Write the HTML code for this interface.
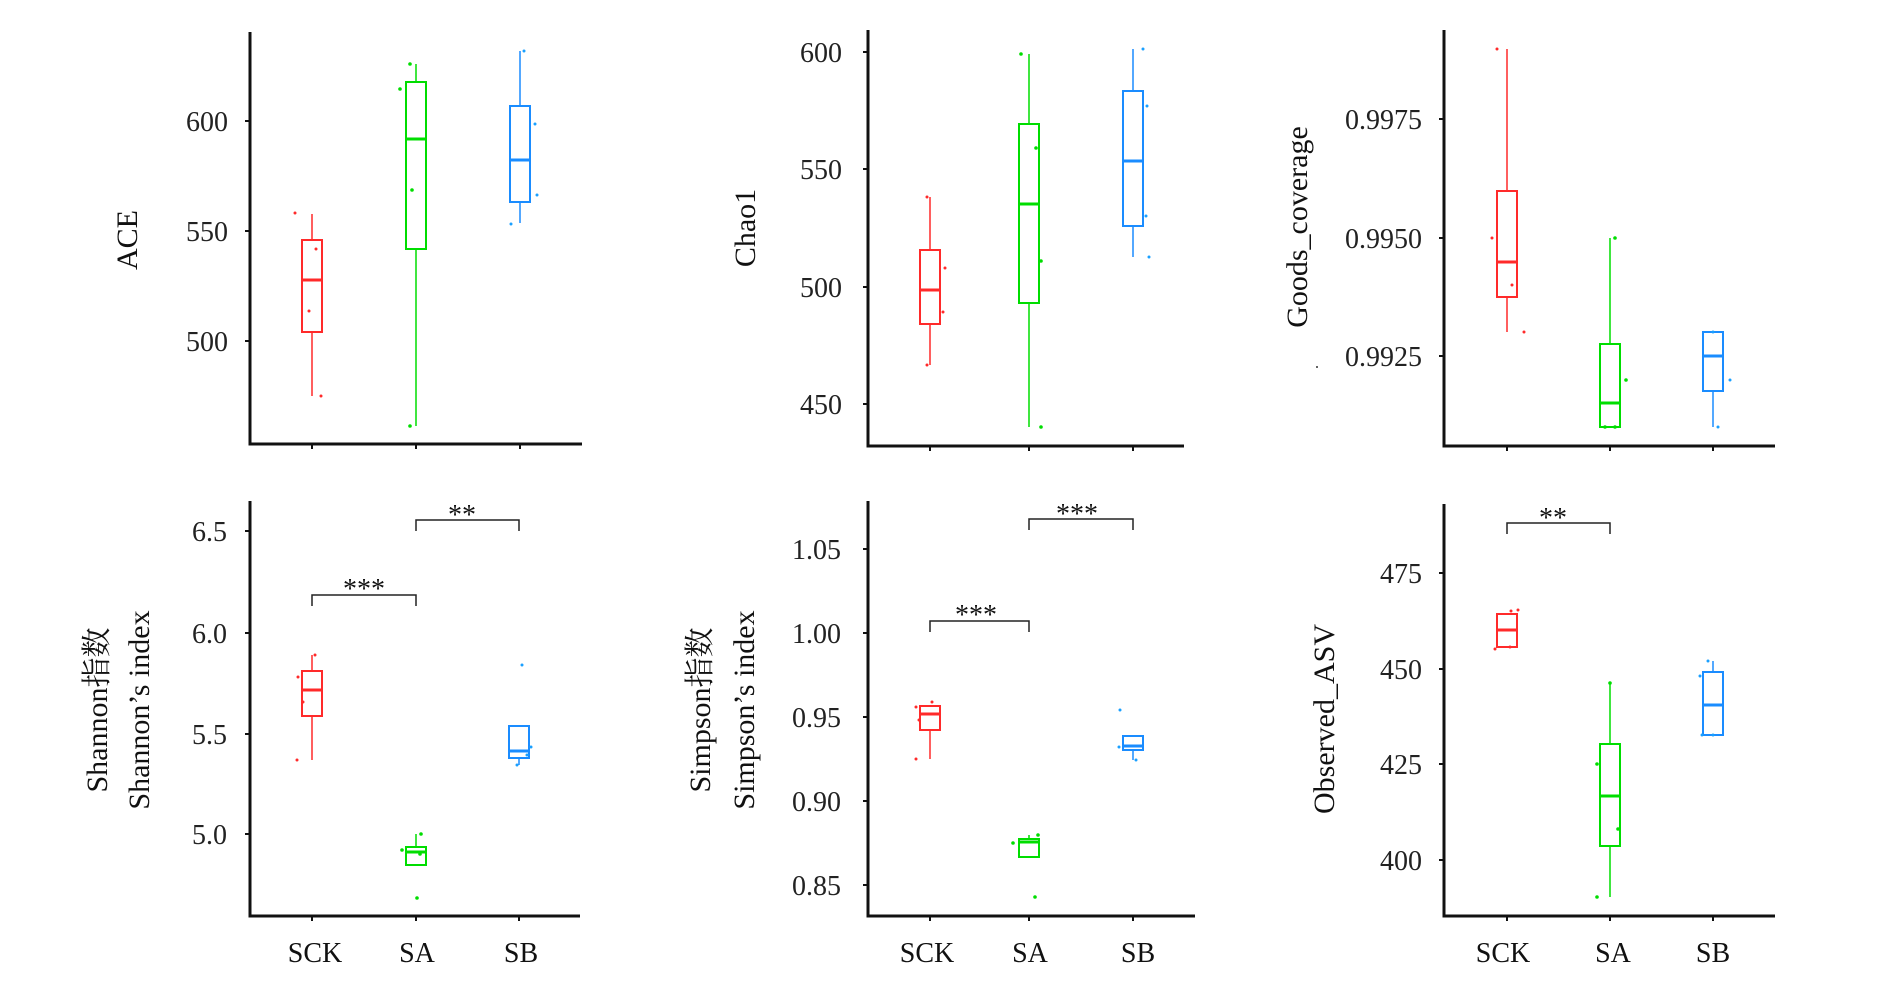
<!DOCTYPE html>
<html><head><meta charset="utf-8"><style>
html,body{margin:0;padding:0;background:#fff;}
svg{display:block;}
text{font-family:"Liberation Serif","Noto Serif CJK SC","Noto Sans CJK SC",serif;fill:#222;}
.tk{font-size:28px;text-anchor:end;}
.xl{font-size:28px;text-anchor:middle;fill:#111;}
.at{font-size:30px;text-anchor:middle;fill:#111;}
.st{font-size:28px;text-anchor:middle;fill:#111;}
.ax{stroke:#111;stroke-width:3;fill:none;}
.tm{stroke:#111;stroke-width:2;}
.r{stroke:#ff2a2a;fill:none;}
.g{stroke:#00dd00;fill:none;}
.b{stroke:#1a8cff;fill:none;}
.br{stroke:#222;stroke-width:1.5;fill:none;}
</style></head><body>
<svg width="1890" height="997" viewBox="0 0 1890 997" xmlns="http://www.w3.org/2000/svg">

<!-- ===== ACE ===== -->
<path class="ax" d="M250,32 V444 H582"/>
<path class="tm" d="M245,121H250 M245,231H250 M245,341H250 M312,444v5 M416,444v5 M520,444v5"/>
<text class="tk" x="228" y="131">600</text>
<text class="tk" x="228" y="241">550</text>
<text class="tk" x="228" y="351">500</text>
<text class="at" transform="translate(137,240) rotate(-90)">ACE</text>
<g class="r"><path stroke-width="1.5" d="M312,214V240 M312,332V396"/><rect x="302" y="240" width="20" height="92" stroke-width="2"/><path stroke-width="3" d="M302,280H322"/></g>
<g class="g"><path stroke-width="1.5" d="M416,64V82 M416,249V426"/><rect x="406" y="82" width="20" height="167" stroke-width="2"/><path stroke-width="3" d="M406,139H426"/></g>
<g class="b"><path stroke-width="1.5" d="M520,51V106 M520,202V223"/><rect x="510" y="106" width="20" height="96" stroke-width="2"/><path stroke-width="3" d="M510,160H530"/></g>
<g fill="#ff2a2a"><circle cx="295" cy="213" r="1.5"/><circle cx="316" cy="249" r="1.5"/><circle cx="309" cy="311" r="1.5"/><circle cx="321" cy="396" r="1.5"/></g>
<g fill="#00dd00"><circle cx="410" cy="64" r="1.8"/><circle cx="400" cy="89" r="1.8"/><circle cx="412" cy="190" r="1.8"/><circle cx="410" cy="426" r="1.8"/></g>
<g fill="#1aa0ff"><circle cx="524" cy="51" r="1.5"/><circle cx="535" cy="124" r="1.5"/><circle cx="537" cy="195" r="1.5"/><circle cx="511" cy="224" r="1.5"/></g>

<!-- ===== Chao1 ===== -->
<path class="ax" d="M868,30 V446 H1184"/>
<path class="tm" d="M863,52H868 M863,169H868 M863,287H868 M863,404H868 M930,446v5 M1029,446v5 M1133,446v5"/>
<text class="tk" x="842" y="62">600</text>
<text class="tk" x="842" y="179">550</text>
<text class="tk" x="842" y="297">500</text>
<text class="tk" x="842" y="414">450</text>
<text class="at" transform="translate(755,228) rotate(-90)">Chao1</text>
<g class="r"><path stroke-width="1.5" d="M930,197V250 M930,324V365"/><rect x="920" y="250" width="20" height="74" stroke-width="2"/><path stroke-width="3" d="M920,290H940"/></g>
<g class="g"><path stroke-width="1.5" d="M1029,54V124 M1029,303V427"/><rect x="1019" y="124" width="20" height="179" stroke-width="2"/><path stroke-width="3" d="M1019,204H1039"/></g>
<g class="b"><path stroke-width="1.5" d="M1133,49V91 M1133,226V257"/><rect x="1123" y="91" width="20" height="135" stroke-width="2"/><path stroke-width="3" d="M1123,161H1143"/></g>
<g fill="#ff2a2a"><circle cx="927" cy="197" r="1.5"/><circle cx="945" cy="268" r="1.5"/><circle cx="943" cy="312" r="1.5"/><circle cx="927" cy="365" r="1.5"/></g>
<g fill="#00dd00"><circle cx="1021" cy="54" r="1.8"/><circle cx="1036" cy="148" r="1.8"/><circle cx="1041" cy="261" r="1.8"/><circle cx="1041" cy="427" r="1.8"/></g>
<g fill="#1aa0ff"><circle cx="1143" cy="49" r="1.5"/><circle cx="1147" cy="106" r="1.5"/><circle cx="1146" cy="216" r="1.5"/><circle cx="1149" cy="257" r="1.5"/></g>

<!-- ===== Goods ===== -->
<path class="ax" d="M1444,30 V446 H1775"/>
<path class="tm" d="M1439,119H1444 M1439,238H1444 M1439,356H1444 M1507,446v5 M1610,446v5 M1713,446v5"/>
<text class="tk" x="1422" y="129">0.9975</text>
<text class="tk" x="1422" y="248">0.9950</text>
<text class="tk" x="1422" y="366">0.9925</text>
<text class="at" transform="translate(1307,227) rotate(-90)">Goods_coverage</text>
<circle cx="1317" cy="367" r="1" fill="#333"/>
<g class="r"><path stroke-width="1.5" d="M1507,49V191 M1507,297V332"/><rect x="1497" y="191" width="20" height="106" stroke-width="2"/><path stroke-width="3" d="M1497,262H1517"/></g>
<g class="g"><path stroke-width="1.5" d="M1610,238V344"/><rect x="1600" y="344" width="20" height="83" stroke-width="2"/><path stroke-width="3" d="M1600,403H1620"/></g>
<g class="b"><path stroke-width="1.5" d="M1713,391V427"/><rect x="1703" y="332" width="20" height="59" stroke-width="2"/><path stroke-width="3" d="M1703,356H1723"/></g>
<g fill="#ff2a2a"><circle cx="1497" cy="49" r="1.5"/><circle cx="1492" cy="238" r="1.5"/><circle cx="1512" cy="285" r="1.5"/><circle cx="1524" cy="332" r="1.5"/></g>
<g fill="#00dd00"><circle cx="1615" cy="238" r="1.8"/><circle cx="1626" cy="380" r="1.8"/><circle cx="1605" cy="427" r="1.8"/><circle cx="1615" cy="427" r="1.8"/></g>
<g fill="#1aa0ff"><circle cx="1713" cy="332" r="1.5"/><circle cx="1730" cy="380" r="1.5"/><circle cx="1718" cy="427" r="1.5"/></g>

<!-- ===== Shannon ===== -->
<path class="ax" d="M250,501 V916 H580"/>
<path class="tm" d="M245,531H250 M245,633H250 M245,734H250 M245,834H250 M312,916v5 M416,916v5 M519,916v5"/>
<text class="tk" x="227" y="541">6.5</text>
<text class="tk" x="227" y="643">6.0</text>
<text class="tk" x="227" y="744">5.5</text>
<text class="tk" x="227" y="844">5.0</text>
<text class="at" transform="translate(107,710) rotate(-90)">Shannon指数</text>
<text class="at" transform="translate(149,710) rotate(-90)">Shannon’s index</text>
<g class="r"><path stroke-width="1.5" d="M312,655V671 M312,716V760"/><rect x="302" y="671" width="20" height="45" stroke-width="2"/><path stroke-width="3" d="M302,690H322"/></g>
<g class="g"><path stroke-width="1.5" d="M416,834V847"/><rect x="406" y="847" width="20" height="18" stroke-width="2"/><path stroke-width="3" d="M406,852H426"/></g>
<g class="b"><path stroke-width="1.5" d="M519,758V765"/><rect x="509" y="726" width="20" height="32" stroke-width="2"/><path stroke-width="3" d="M509,751H529"/></g>
<g fill="#ff2a2a"><circle cx="298" cy="677" r="1.5"/><circle cx="315" cy="655" r="1.5"/><circle cx="303" cy="702" r="1.5"/><circle cx="297" cy="760" r="1.5"/></g>
<g fill="#00dd00"><circle cx="402" cy="850" r="1.8"/><circle cx="421" cy="834" r="1.8"/><circle cx="420" cy="854" r="1.8"/><circle cx="417" cy="898" r="1.8"/></g>
<g fill="#1aa0ff"><circle cx="522" cy="665" r="1.5"/><circle cx="531" cy="747" r="1.5"/><circle cx="527" cy="755" r="1.5"/><circle cx="517" cy="765" r="1.5"/></g>
<path class="br" d="M312,606V595H416V606 M416,531V520H519V531"/>
<text class="st" x="364" y="598">***</text>
<text class="st" x="462" y="524">**</text>
<text class="xl" x="315" y="962">SCK</text>
<text class="xl" x="417" y="962">SA</text>
<text class="xl" x="521" y="962">SB</text>

<!-- ===== Simpson ===== -->
<path class="ax" d="M868,501 V916 H1195"/>
<path class="tm" d="M863,549H868 M863,633H868 M863,717H868 M863,801H868 M863,885H868 M930,916v5 M1029,916v5 M1133,916v5"/>
<text class="tk" x="841" y="559">1.05</text>
<text class="tk" x="841" y="643">1.00</text>
<text class="tk" x="841" y="727">0.95</text>
<text class="tk" x="841" y="811">0.90</text>
<text class="tk" x="841" y="895">0.85</text>
<text class="at" transform="translate(710,710) rotate(-90)">Simpson指数</text>
<text class="at" transform="translate(754,710) rotate(-90)">Simpson’s index</text>
<g class="r"><path stroke-width="1.5" d="M930,730V759"/><rect x="920" y="706" width="20" height="24" stroke-width="2"/><path stroke-width="3" d="M920,714H940"/></g>
<g class="g"><path stroke-width="1.5" d="M1029,835V839"/><rect x="1019" y="839" width="20" height="18" stroke-width="2"/><path stroke-width="3" d="M1019,842H1039"/></g>
<g class="b"><path stroke-width="1.5" d="M1133,750V760"/><rect x="1123" y="736" width="20" height="14" stroke-width="2"/><path stroke-width="3" d="M1123,746H1143"/></g>
<g fill="#ff2a2a"><circle cx="916" cy="759" r="1.5"/><circle cx="932" cy="702" r="1.5"/><circle cx="916" cy="707" r="1.5"/><circle cx="919" cy="720" r="1.5"/></g>
<g fill="#00dd00"><circle cx="1013" cy="843" r="1.8"/><circle cx="1038" cy="835" r="1.8"/><circle cx="1035" cy="897" r="1.8"/></g>
<g fill="#1aa0ff"><circle cx="1120" cy="710" r="1.5"/><circle cx="1119" cy="747" r="1.5"/><circle cx="1136" cy="760" r="1.5"/></g>
<path class="br" d="M930,632V621H1029V632 M1029,530V519H1133V530"/>
<text class="st" x="976" y="624">***</text>
<text class="st" x="1077" y="523">***</text>
<text class="xl" x="927" y="962">SCK</text>
<text class="xl" x="1030" y="962">SA</text>
<text class="xl" x="1138" y="962">SB</text>

<!-- ===== Observed_ASV ===== -->
<path class="ax" d="M1444,504 V916 H1775"/>
<path class="tm" d="M1439,573H1444 M1439,669H1444 M1439,764H1444 M1439,860H1444 M1507,916v5 M1610,916v5 M1713,916v5"/>
<text class="tk" x="1422" y="583">475</text>
<text class="tk" x="1422" y="679">450</text>
<text class="tk" x="1422" y="774">425</text>
<text class="tk" x="1422" y="870">400</text>
<text class="at" transform="translate(1334,719) rotate(-90)">Observed_ASV</text>
<g class="r"><rect x="1497" y="614" width="20" height="33" stroke-width="2"/><path stroke-width="3" d="M1497,630H1517"/></g>
<g class="g"><path stroke-width="1.5" d="M1610,683V744 M1610,846V897"/><rect x="1600" y="744" width="20" height="102" stroke-width="2"/><path stroke-width="3" d="M1600,796H1620"/></g>
<g class="b"><path stroke-width="1.5" d="M1713,661V672"/><rect x="1703" y="672" width="20" height="63" stroke-width="2"/><path stroke-width="3" d="M1703,705H1723"/></g>
<g fill="#ff2a2a"><circle cx="1511" cy="611" r="1.5"/><circle cx="1518" cy="610" r="1.5"/><circle cx="1495" cy="649" r="1.5"/><circle cx="1510" cy="647" r="1.5"/></g>
<g fill="#00dd00"><circle cx="1597" cy="764" r="1.8"/><circle cx="1618" cy="829" r="1.8"/><circle cx="1597" cy="897" r="1.8"/><circle cx="1610" cy="683" r="1.8"/></g>
<g fill="#1aa0ff"><circle cx="1708" cy="661" r="1.5"/><circle cx="1700" cy="676" r="1.5"/><circle cx="1702" cy="735" r="1.5"/><circle cx="1713" cy="735" r="1.5"/></g>
<path class="br" d="M1507,534V523H1610V534"/>
<text class="st" x="1553" y="527">**</text>
<text class="xl" x="1503" y="962">SCK</text>
<text class="xl" x="1613" y="962">SA</text>
<text class="xl" x="1713" y="962">SB</text>
</svg>
</body></html>
